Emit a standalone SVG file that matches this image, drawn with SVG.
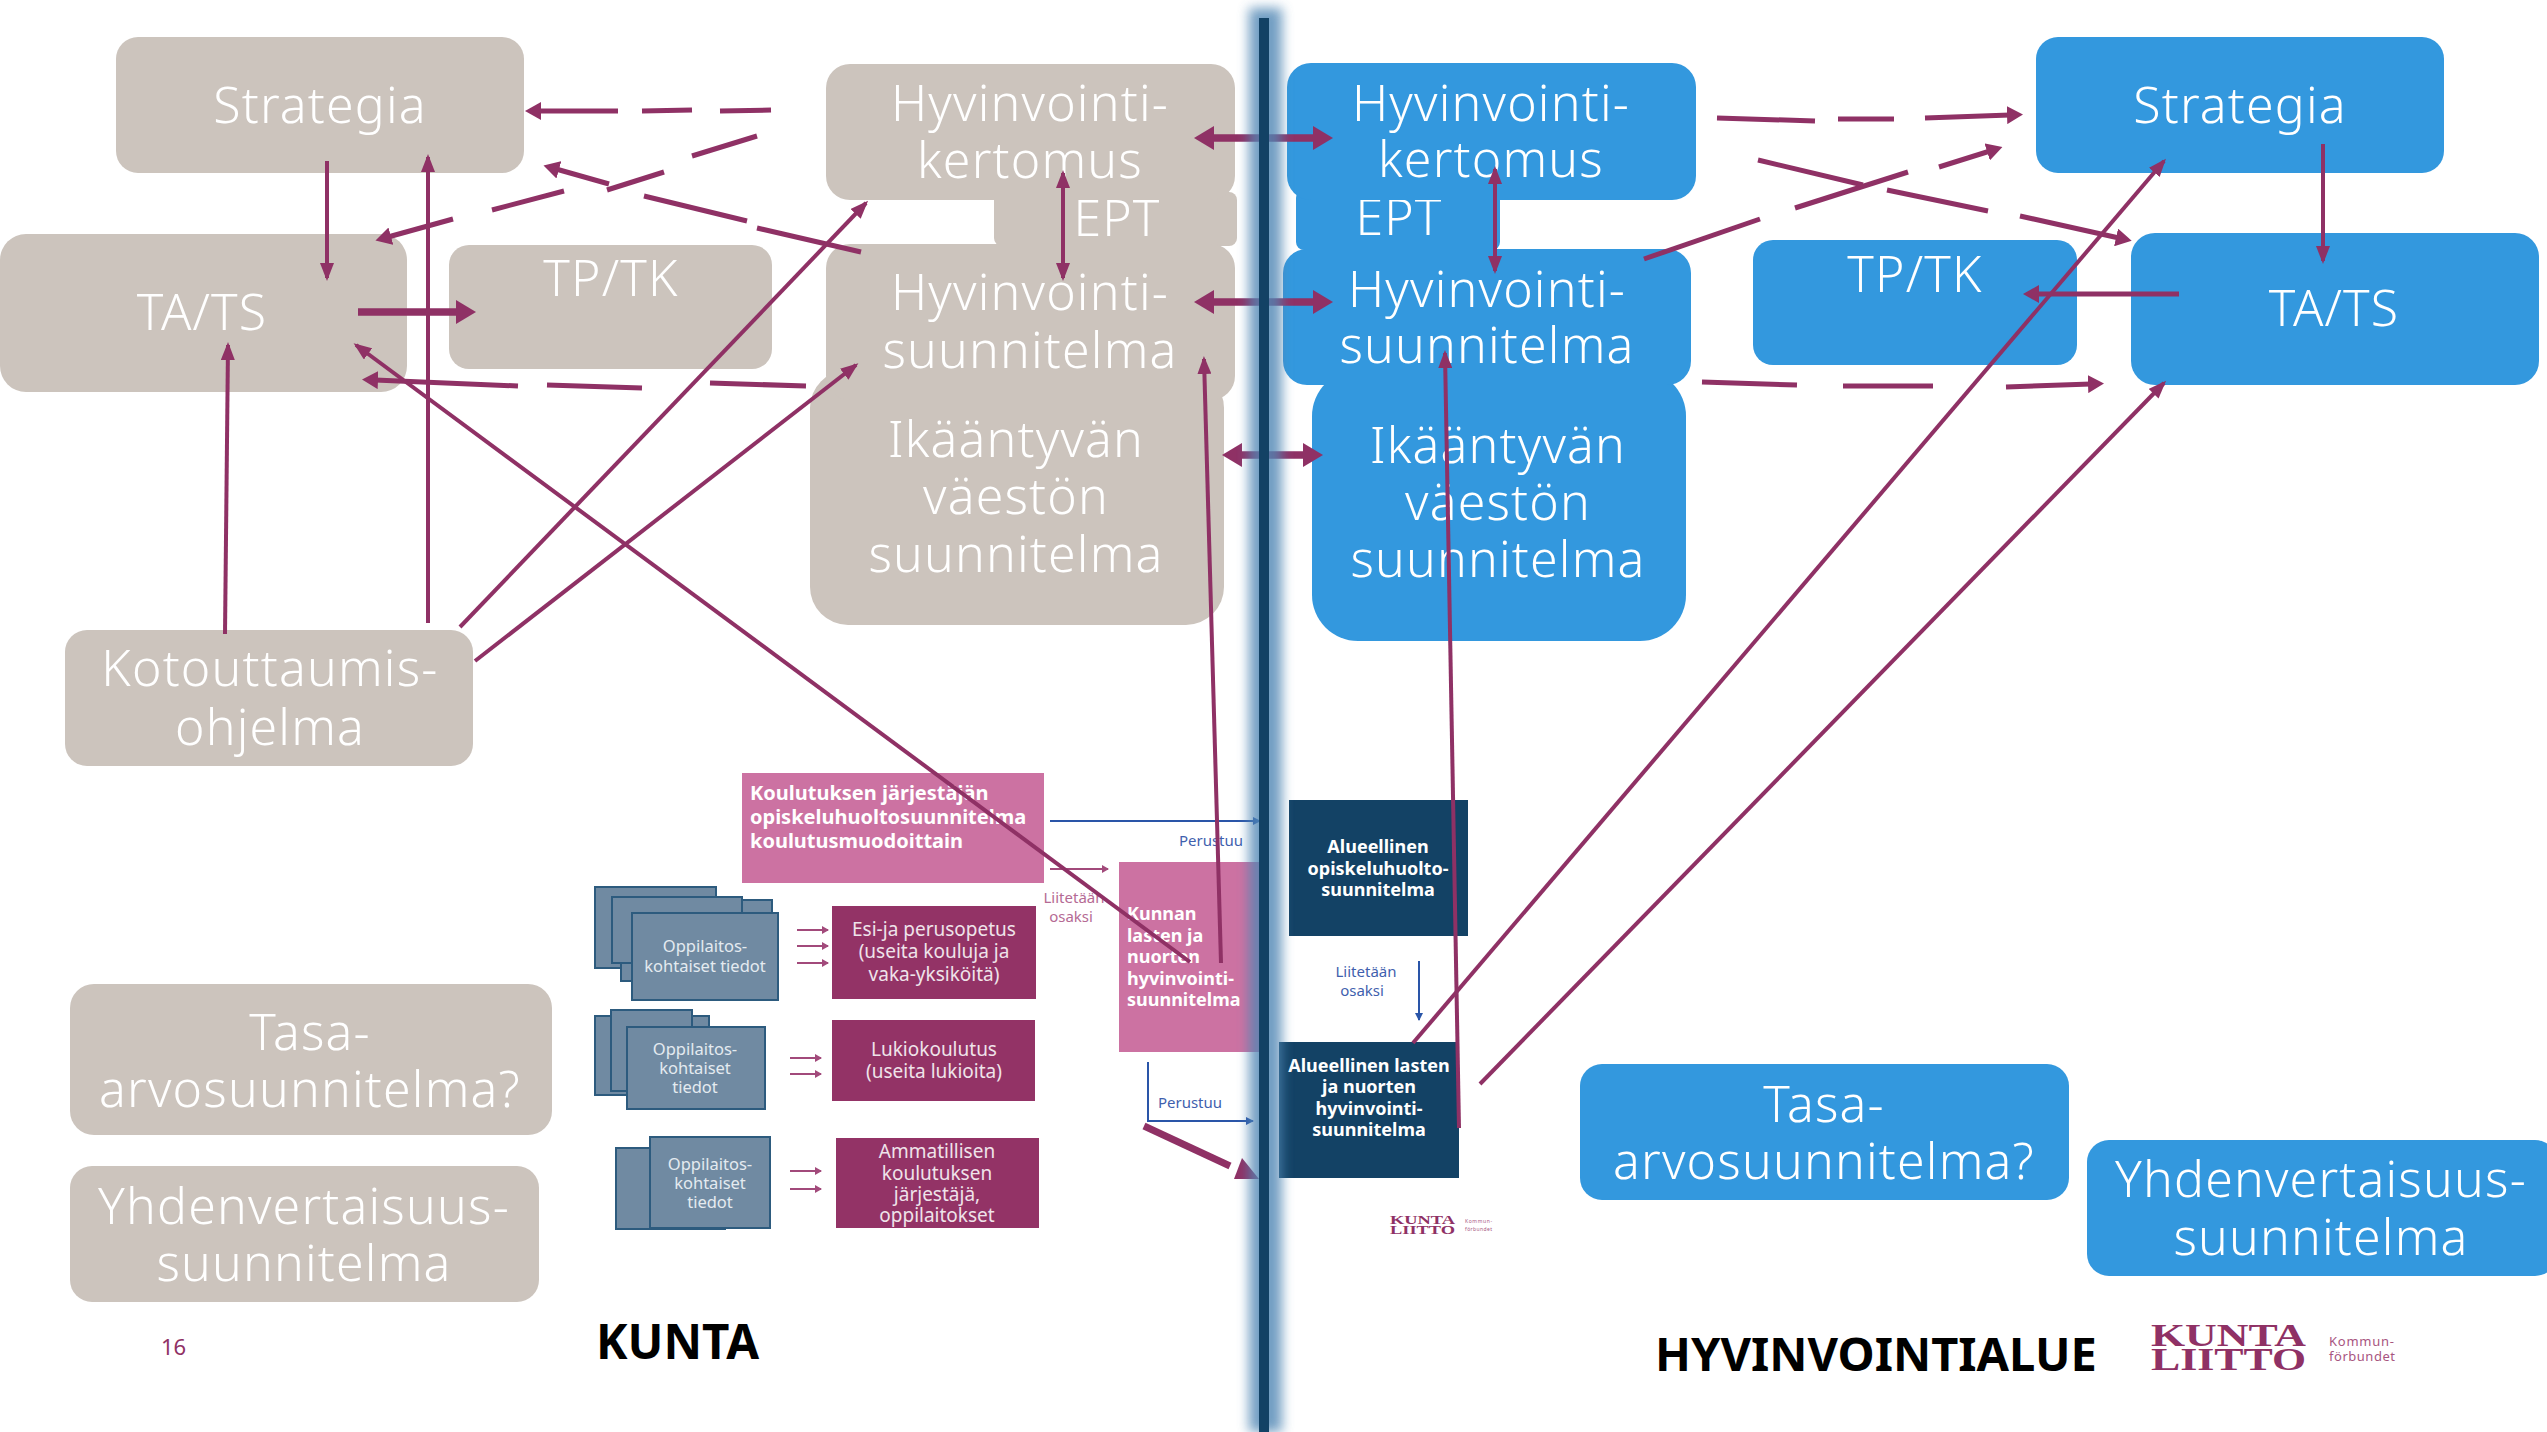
<svg xmlns="http://www.w3.org/2000/svg" width="2547" height="1432" viewBox="0 0 2547 1432">
<style>
text{font-family:"Noto Sans","Open Sans",sans-serif}
.t{font-size:50px;fill:#fff;text-anchor:middle;font-weight:300;letter-spacing:1.2px}
.bg{fill:#CCC4BD}.bl{fill:#3398DE}
.st{fill:#708AA2;stroke:#2D5B7E;stroke-width:2}
.wine{fill:#933366}.pink{fill:#CC72A2}.dark{fill:#134265}
.s{font-size:16.5px;fill:#E4EAF0;text-anchor:middle}
.w{font-size:19px;fill:#EFE3EA;text-anchor:middle}
.b{font-size:20px;fill:#fff;font-weight:700}
.b2{font-size:18px;fill:#fff;font-weight:700}
.d{font-size:18px;fill:#fff;font-weight:700;text-anchor:middle}
.u{font-size:15px;fill:#3F5FAE;text-anchor:middle}
.p{font-size:15px;fill:#B56A94;text-anchor:middle}
.c line,.c polyline{stroke:#8F3165;fill:none}
.n{stroke-width:4;marker-end:url(#h)}
.o{stroke-width:5}
.oa{stroke-width:5;marker-end:url(#h2)}
.k{stroke-width:7.5;marker-end:url(#h3)}
.kk{stroke-width:7.5;marker-end:url(#h3);marker-start:url(#h3)}
.nn{stroke-width:4;marker-end:url(#h);marker-start:url(#h)}
.c .bu{stroke:#2A55A8;stroke-width:2;marker-end:url(#hb)}
.c .sm{stroke:#A24A7B;stroke-width:2;marker-end:url(#hs)}
</style>
<defs>
<marker id="h" markerUnits="userSpaceOnUse" markerWidth="18" markerHeight="14" refX="15" refY="7" orient="auto-start-reverse"><path d="M0 0L18 7L0 14Z" fill="#8F3165"/></marker>
<marker id="h2" markerUnits="userSpaceOnUse" markerWidth="16" markerHeight="18" refX="3" refY="9" orient="auto-start-reverse"><path d="M0 0L16 9L0 18Z" fill="#8F3165"/></marker>
<marker id="h3" markerUnits="userSpaceOnUse" markerWidth="20" markerHeight="24" refX="2" refY="12" orient="auto-start-reverse"><path d="M0 0L20 12L0 24Z" fill="#8F3165"/></marker>
<marker id="hb" markerUnits="userSpaceOnUse" markerWidth="8" markerHeight="8" refX="7" refY="4" orient="auto"><path d="M0 0L8 4L0 8Z" fill="#2A55A8"/></marker>
<marker id="hs" markerUnits="userSpaceOnUse" markerWidth="7" markerHeight="8" refX="6" refY="4" orient="auto"><path d="M0 0L7 4L0 8Z" fill="#A24A7B"/></marker>
<filter id="glow" x="-200%" y="-5%" width="500%" height="110%"><feGaussianBlur stdDeviation="6"/></filter>
</defs>

<g id="nodes-kunta">
<g id="k-ikaantyvan"><rect class="bg" x="810" y="370" width="414" height="255" rx="38"/><text class="t" x="1016" y="457">Ikääntyvän</text><text class="t" x="1016" y="514">väestön</text><text class="t" x="1016" y="572">suunnitelma</text></g>
<g id="k-ept"><rect class="bg" x="994" y="192" width="243" height="54" rx="8"/><text class="t" x="1117" y="236">EPT</text></g>
<g id="k-kertomus"><rect class="bg" x="826" y="64" width="409" height="136" rx="24"/><text class="t" x="1030" y="121">Hyvinvointi-</text><text class="t" x="1030" y="178">kertomus</text></g>
<g id="k-suunnitelma"><rect class="bg" x="826" y="244" width="409" height="156" rx="24"/><text class="t" x="1030" y="310">Hyvinvointi-</text><text class="t" x="1030" y="368">suunnitelma</text></g>
<g id="k-strategia"><rect class="bg" x="116" y="37" width="408" height="136" rx="22"/><text class="t" x="320" y="123">Strategia</text></g>
<g id="k-tats"><rect class="bg" x="0" y="234" width="407" height="158" rx="26"/><text class="t" x="202" y="330">TA/TS</text></g>
<g id="k-tptk"><rect class="bg" x="449" y="245" width="323" height="124" rx="20"/><text class="t" x="611" y="296">TP/TK</text></g>
<g id="k-kotouttaumis"><rect class="bg" x="65" y="630" width="408" height="136" rx="22"/><text class="t" x="270" y="686">Kotouttaumis-</text><text class="t" x="270" y="745">ohjelma</text></g>
<g id="k-tasa"><rect class="bg" x="70" y="984" width="482" height="151" rx="24"/><text class="t" x="310" y="1050">Tasa-</text><text class="t" x="310" y="1107">arvosuunnitelma?</text></g>
<g id="k-yhd"><rect class="bg" x="70" y="1166" width="469" height="136" rx="22"/><text class="t" x="304" y="1224">Yhdenvertaisuus-</text><text class="t" x="304" y="1281">suunnitelma</text></g>
</g>

<g id="nodes-hva">
<g id="h-ikaantyvan"><rect class="bl" x="1312" y="370" width="374" height="271" rx="46"/><text class="t" x="1498" y="463">Ikääntyvän</text><text class="t" x="1498" y="520">väestön</text><text class="t" x="1498" y="577">suunnitelma</text></g>
<g id="h-ept"><rect class="bl" x="1296" y="190" width="204" height="60" rx="8"/><text class="t" x="1399" y="235">EPT</text></g>
<g id="h-kertomus"><rect class="bl" x="1287" y="63" width="409" height="137" rx="24"/><text class="t" x="1491" y="121">Hyvinvointi-</text><text class="t" x="1491" y="177">kertomus</text></g>
<g id="h-suunnitelma"><rect class="bl" x="1283" y="249" width="408" height="136" rx="24"/><text class="t" x="1487" y="307">Hyvinvointi-</text><text class="t" x="1487" y="363">suunnitelma</text></g>
<g id="h-strategia"><rect class="bl" x="2036" y="37" width="408" height="136" rx="22"/><text class="t" x="2240" y="123">Strategia</text></g>
<g id="h-tats"><rect class="bl" x="2131" y="233" width="408" height="152" rx="24"/><text class="t" x="2334" y="326">TA/TS</text></g>
<g id="h-tptk"><rect class="bl" x="1753" y="240" width="324" height="125" rx="20"/><text class="t" x="1915" y="292">TP/TK</text></g>
<g id="h-tasa"><rect class="bl" x="1580" y="1064" width="489" height="136" rx="22"/><text class="t" x="1824" y="1122">Tasa-</text><text class="t" x="1824" y="1179">arvosuunnitelma?</text></g>
<g id="h-yhd"><rect class="bl" x="2087" y="1140" width="470" height="136" rx="22"/><text class="t" x="2321" y="1197">Yhdenvertaisuus-</text><text class="t" x="2321" y="1255">suunnitelma</text></g>
</g>

<g id="embedded-slide">
<g id="koulutus"><rect class="pink" x="742" y="773" width="302" height="110"/><text class="b" x="750" y="800">Koulutuksen järjestäjän</text><text class="b" x="750" y="824">opiskeluhuoltosuunnitelma</text><text class="b" x="750" y="848">koulutusmuodoittain</text></g>
<g id="kunnan"><rect class="pink" x="1119" y="862" width="140" height="190"/><text class="b2" x="1127" y="920">Kunnan</text><text class="b2" x="1127" y="942">lasten ja</text><text class="b2" x="1127" y="963">nuorten</text><text class="b2" x="1127" y="985">hyvinvointi-</text><text class="b2" x="1127" y="1006">suunnitelma</text></g>
<g id="stack1"><rect class="st" x="595" y="887" width="121" height="81"/><rect class="st" x="621" y="900" width="151" height="81"/><rect class="st" x="612" y="897" width="130" height="66"/><rect class="st" x="632" y="913" width="146" height="87"/><text class="s" x="705" y="952">Oppilaitos-</text><text class="s" x="705" y="972">kohtaiset tiedot</text></g>
<g id="stack2"><rect class="st" x="595" y="1016" width="114" height="79"/><rect class="st" x="611" y="1010" width="81" height="81"/><rect class="st" x="627" y="1027" width="138" height="82"/><text class="s" x="695" y="1055">Oppilaitos-</text><text class="s" x="695" y="1074">kohtaiset</text><text class="s" x="695" y="1093">tiedot</text></g>
<g id="stack3"><rect class="st" x="616" y="1148" width="109" height="81"/><rect class="st" x="650" y="1137" width="120" height="91"/><text class="s" x="710" y="1170">Oppilaitos-</text><text class="s" x="710" y="1189">kohtaiset</text><text class="s" x="710" y="1208">tiedot</text></g>
<g id="esi"><rect class="wine" x="832" y="906" width="204" height="93"/><text class="w" x="934" y="936">Esi-ja perusopetus</text><text class="w" x="934" y="958">(useita kouluja ja</text><text class="w" x="934" y="981">vaka-yksiköitä)</text></g>
<g id="lukio"><rect class="wine" x="832" y="1020" width="203" height="81"/><text class="w" x="934" y="1056">Lukiokoulutus</text><text class="w" x="934" y="1078">(useita lukioita)</text></g>
<g id="ammatillinen"><rect class="wine" x="836" y="1138" width="203" height="90"/><text class="w" x="937" y="1158">Ammatillisen</text><text class="w" x="937" y="1180">koulutuksen</text><text class="w" x="937" y="1201">järjestäjä,</text><text class="w" x="937" y="1222">oppilaitokset</text></g>
<g id="alue-op"><rect class="dark" x="1289" y="800" width="179" height="136"/><text class="d" x="1378" y="853">Alueellinen</text><text class="d" x="1378" y="875">opiskeluhuolto-</text><text class="d" x="1378" y="896">suunnitelma</text></g>
<g id="alue-lasten"><rect class="dark" x="1279" y="1042" width="180" height="136"/><text class="d" x="1369" y="1072">Alueellinen lasten</text><text class="d" x="1369" y="1093">ja nuorten</text><text class="d" x="1369" y="1115">hyvinvointi-</text><text class="d" x="1369" y="1136">suunnitelma</text></g>
<text class="p" x="1074" y="903">Liitetään</text><text class="p" x="1071" y="922">osaksi</text>
<text class="u" x="1211" y="846">Perustuu</text><text class="u" x="1190" y="1108">Perustuu</text>
<text class="u" x="1366" y="977">Liitetään</text><text class="u" x="1362" y="996">osaksi</text>
</g>

<g id="connectors" class="c">
<line class="bu" x1="1050" y1="821" x2="1260" y2="821"/>
<polyline class="bu" points="1148,1062 1148,1121 1253,1121"/>
<line class="bu" x1="1419" y1="961" x2="1419" y2="1020"/>
<line class="sm" x1="1050" y1="869" x2="1108" y2="869"/>
<line class="sm" x1="797" y1="930" x2="828" y2="930"/><line class="sm" x1="797" y1="946" x2="828" y2="946"/><line class="sm" x1="797" y1="963" x2="828" y2="963"/>
<line class="sm" x1="790" y1="1058" x2="821" y2="1058"/><line class="sm" x1="790" y1="1074" x2="821" y2="1074"/>
<line class="sm" x1="790" y1="1171" x2="821" y2="1171"/><line class="sm" x1="790" y1="1189" x2="821" y2="1189"/>

<line class="o" x1="771" y1="110" x2="720" y2="111"/><line class="o" x1="692" y1="110" x2="642" y2="111"/><line class="oa" x1="618" y1="111" x2="538" y2="111"/>
<line class="o" x1="757" y1="136" x2="692" y2="156"/><line class="o" x1="664" y1="172" x2="607" y2="190"/><line class="o" x1="564" y1="191" x2="492" y2="210"/><line class="oa" x1="453" y1="219" x2="388" y2="237"/>
<line class="o" x1="861" y1="252" x2="757" y2="228"/><line class="o" x1="747" y1="221" x2="644" y2="196"/><line class="oa" x1="609" y1="184" x2="556" y2="169"/>
<line class="o" x1="806" y1="386" x2="710" y2="383"/><line class="o" x1="642" y1="388" x2="547" y2="385"/><line class="oa" x1="518" y1="386" x2="375" y2="380"/>
<line class="n" x1="327" y1="161" x2="327" y2="278"/>
<line class="n" x1="428" y1="623" x2="428" y2="157"/>
<line class="n" x1="225" y1="634" x2="228" y2="345"/>
<line class="k" x1="358" y1="312" x2="458" y2="312"/>
<line class="n" x1="460" y1="627" x2="866" y2="203"/>
<line class="n" x1="475" y1="661" x2="856" y2="365"/>
<line class="n" x1="1190" y1="962" x2="356" y2="345"/>
<line class="n" x1="1221" y1="963" x2="1204" y2="359"/>
<line class="nn" x1="1063" y1="173" x2="1063" y2="278"/>
<line class="kk" x1="1212" y1="138" x2="1315" y2="138"/>
<line class="kk" x1="1212" y1="302" x2="1315" y2="302"/>
<line class="kk" x1="1240" y1="455" x2="1305" y2="455"/>
<line style="stroke-width:7" x1="1144" y1="1126" x2="1230" y2="1166"/><path d="M1259 1179L1234 1179L1242 1158Z" fill="#8F3165"/>

<line class="o" x1="1717" y1="118" x2="1815" y2="121"/><line class="o" x1="1838" y1="119" x2="1894" y2="119"/><line class="oa" x1="1925" y1="118" x2="2010" y2="115"/>
<line class="o" x1="1644" y1="259" x2="1760" y2="219"/><line class="o" x1="1795" y1="208" x2="1908" y2="172"/><line class="oa" x1="1939" y1="167" x2="1990" y2="151"/>
<line class="o" x1="1758" y1="160" x2="1863" y2="185"/><line class="o" x1="1887" y1="190" x2="1988" y2="211"/><line class="oa" x1="2020" y1="216" x2="2119" y2="238"/>
<line class="o" x1="1702" y1="382" x2="1797" y2="385"/><line class="o" x1="1843" y1="386" x2="1933" y2="386"/><line class="oa" x1="2006" y1="387" x2="2091" y2="384"/>
<line class="n" x1="2323" y1="144" x2="2323" y2="261"/>
<line class="oa" x1="2179" y1="294" x2="2036" y2="294"/>
<line class="n" x1="1413" y1="1043" x2="2164" y2="161"/>
<line class="n" x1="1480" y1="1084" x2="2164" y2="383"/>
<line class="n" x1="1459" y1="1128" x2="1445" y2="353"/>
<line class="nn" x1="1495" y1="169" x2="1495" y2="271"/>
</g>

<g id="divider">
<rect x="1249" y="8" width="33" height="1424" fill="#4F86B4" opacity=".8" filter="url(#glow)"/>
<rect x="1259" y="18" width="10" height="1414" fill="#134265"/>
</g>

<g id="labels">
<text x="161" y="1355" style="font-size:22px;fill:#8F3165">16</text>
<text x="596" y="1359" style="font-size:47.5px;font-weight:700;fill:#000">KUNTA</text>
<text x="1655" y="1371" style="font-size:47px;font-weight:700;fill:#000">HYVINVOINTIALUE</text>
</g>
<g id="logo-large" style="fill:#8F3165">
<text x="2151" y="1346" style="font-family:'Liberation Serif',serif;font-size:32px;font-weight:700" textLength="155" lengthAdjust="spacingAndGlyphs">KUNTA</text>
<text x="2151" y="1370" style="font-family:'Liberation Serif',serif;font-size:32px;font-weight:700" textLength="155" lengthAdjust="spacingAndGlyphs">LIITTO</text>
<text x="2329" y="1346" style="font-size:13px;fill:#A8557F" textLength="65">Kommun-</text>
<text x="2329" y="1361" style="font-size:13px;fill:#A8557F" textLength="66">förbundet</text>
</g>
<g id="logo-small" style="fill:#8F3165">
<text x="1390" y="1224" style="font-family:'Liberation Serif',serif;font-size:13px;font-weight:700" textLength="65" lengthAdjust="spacingAndGlyphs">KUNTA</text>
<text x="1390" y="1234" style="font-family:'Liberation Serif',serif;font-size:13px;font-weight:700" textLength="65" lengthAdjust="spacingAndGlyphs">LIITTO</text>
<text x="1465" y="1223" style="font-size:5px;fill:#A8557F" textLength="27">Kommun-</text>
<text x="1465" y="1231" style="font-size:5px;fill:#A8557F" textLength="27">förbundet</text>
</g>
</svg>
